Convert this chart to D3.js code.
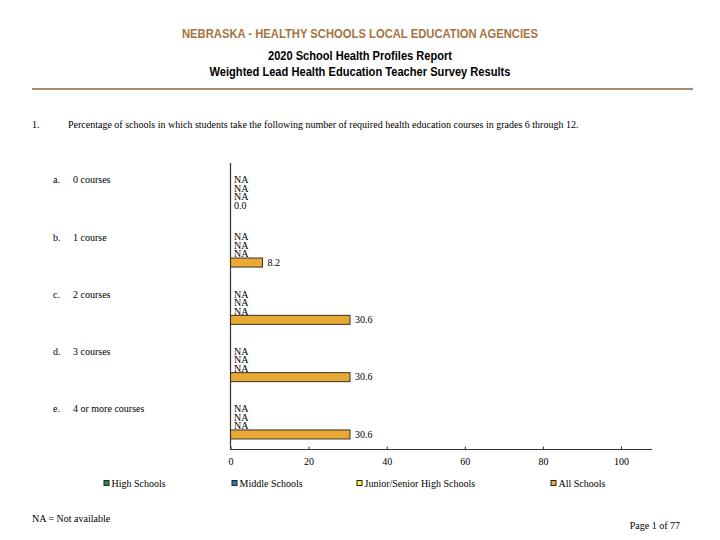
<!DOCTYPE html>
<html><head><meta charset="utf-8">
<script src="https://cdn.jsdelivr.net/npm/d3@7"></script>
<style>body{margin:0;background:#fff}svg{display:block}</style>
</head><body>
<script>
const categories = ["0 courses","1 course","2 courses","3 courses","4 or more courses"];
const letters = ["a.","b.","c.","d.","e."];
const series = ["High Schools","Middle Schools","Junior/Senior High Schools","All Schools"];
const colors = ["#2e8b3c","#2a7ab8","#ffff33","#e9a935"];
const highSchools = [null,null,null,null,null];
const middleSchools = [null,null,null,null,null];
const juniorSenior = [null,null,null,null,null];
const allSchools = [0.0,8.2,30.6,30.6,30.6];
const xTicks = [0,20,40,60,80,100];

const W=720,H=540;
const svg=d3.select("body").append("svg").attr("width",W).attr("height",H);
const serif="'Liberation Serif','Times New Roman',serif";
const sans="'Liberation Sans',Arial,sans-serif";

function head(t,y,size,color,len){
  svg.append("text").attr("x",360).attr("y",y).attr("text-anchor","middle")
   .attr("font-family",sans).attr("font-weight","bold").attr("font-size",size).attr("fill",color)
   .attr("textLength",len).attr("lengthAdjust","spacingAndGlyphs").text(t);
}
head("NEBRASKA - HEALTHY SCHOOLS LOCAL EDUCATION AGENCIES",38,12.5,"#a5733f",356);
head("2020 School Health Profiles Report",60,12,"#000",184);
head("Weighted Lead Health Education Teacher Survey Results",76,12,"#000",301);
svg.append("line").attr("x1",32).attr("x2",693).attr("y1",89).attr("y2",89)
 .attr("stroke","#a98b6c").attr("stroke-width",2);

svg.append("text").attr("x",32).attr("y",128).attr("font-family",serif).attr("font-size",10).text("1.");
svg.append("text").attr("x",68).attr("y",128).attr("font-family",serif).attr("font-size",10)
 .text("Percentage of schools in which students take the following number of required health education courses in grades 6 through 12.");

const x=d3.scaleLinear().domain([0,100]).range([230.5,621]);
const y0=d3.scaleBand().domain(categories).range([163,449.5]);
const y1=d3.scaleBand().domain(series).range([12.5,46.5]);

const data=categories.map((c,i)=>({cat:c,letter:letters[i],vals:[highSchools[i],middleSchools[i],juniorSenior[i],allSchools[i]]}));

const g=svg.append("g");
const grp=g.selectAll("g.grp").data(data).enter().append("g").attr("transform",d=>`translate(0,${y0(d.cat)})`);
grp.append("text").attr("x",53).attr("y",y1(series[0])+y1.bandwidth()/2+3.5).attr("font-family",serif).attr("font-size",10).text(d=>d.letter);
grp.append("text").attr("x",73).attr("y",y1(series[0])+y1.bandwidth()/2+3.5).attr("font-family",serif).attr("font-size",10).text(d=>d.cat);

grp.each(function(d){
  const sel=d3.select(this);
  d.vals.forEach((v,j)=>{
    const yc=y1(series[j])+y1.bandwidth()/2;
    if(v===null){
      sel.append("text").attr("x",234).attr("y",yc+3.3).attr("font-family",serif).attr("font-size",10).text("NA");
    } else {
      if(v>0){
        sel.append("rect").attr("x",x(0)).attr("y",yc-4.5).attr("width",x(v)-x(0)).attr("height",9)
          .attr("fill",colors[j]).attr("stroke","#3a3020").attr("stroke-width",1);
      }
      sel.append("text").attr("x",v>0?x(v)+5:234).attr("y",yc+3.3).attr("font-family",serif).attr("font-size",10)
        .text(v.toFixed(1));
    }
  });
});

// axes
svg.append("line").attr("x1",x(0)).attr("x2",x(0)).attr("y1",163).attr("y2",449.5).attr("stroke","#333").attr("stroke-width",1.2);
const xAxis=d3.axisBottom(x).tickValues(xTicks).tickSize(3).tickPadding(5).tickFormat(d3.format("d"));
const ax=svg.append("g").attr("transform","translate(0,449.5)").call(xAxis);
ax.select(".domain").attr("d",`M${x(0)},0H652`).attr("stroke","#333").attr("stroke-width",1.2);
ax.selectAll(".tick line").attr("stroke","#333").attr("y1",-3).attr("y2",0);
ax.selectAll(".tick text").attr("font-family",serif).attr("font-size",10).attr("fill","#000");

// legend
const legX=[104,232,357,551];
const leg=svg.append("g").selectAll("g").data(series).enter().append("g");
leg.append("rect").attr("x",(d,i)=>legX[i]).attr("y",480.5).attr("width",5).attr("height",5)
 .attr("fill",(d,i)=>colors[i]).attr("stroke","#222").attr("stroke-width",1);
leg.append("text").attr("x",(d,i)=>legX[i]+7.5).attr("y",486.5).attr("font-family",serif).attr("font-size",10).text(d=>d);

svg.append("text").attr("x",32).attr("y",522).attr("font-family",serif).attr("font-size",10).text("NA = Not available");
svg.append("text").attr("x",680).attr("y",529).attr("text-anchor","end").attr("font-family",serif).attr("font-size",10).text("Page 1 of 77");
</script>
</body></html>
